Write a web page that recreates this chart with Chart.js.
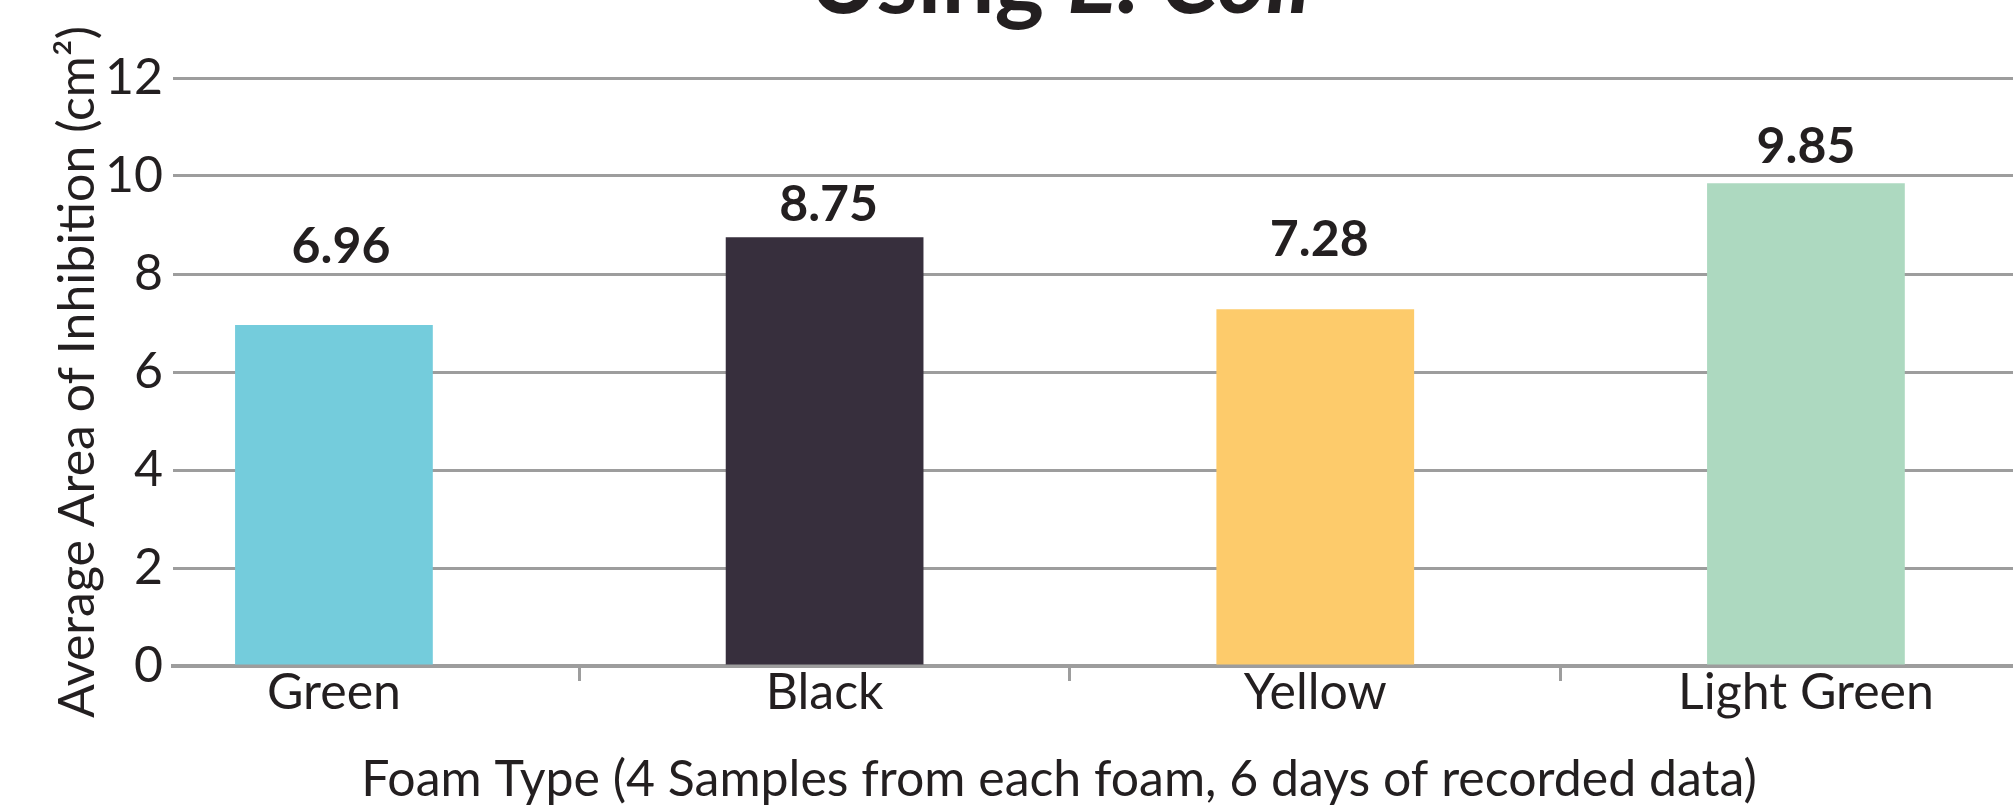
<!DOCTYPE html>
<html>
<head>
<meta charset="utf-8">
<title>Average Area of Inhibition Using E. Coli</title>
<script src="https://cdn.jsdelivr.net/npm/chart.js@4/dist/chart.umd.min.js"></script>
<style>
  html, body { margin: 0; padding: 0; background: #fff; overflow: hidden; }
  #chart { display: block; }
</style>
</head>
<body>
<canvas id="chart" width="2013" height="809"></canvas>
<script>
// Data
const foamTypes = ["Green", "Black", "Yellow", "Light Green"];
const inhibitionArea = [6.96, 8.75, 7.28, 9.85];
const yTicks = [0, 2, 4, 6, 8, 10, 12];
const barColors = ["#74ccdc", "#372f3d", "#fdcb6b", "#add9c0"];

const titleParts = ["Using ", "E. Coli"];
const yTitle = "Average Area of Inhibition (cm\u00b2)";
const xTitle = "Foam Type (4 Samples from each foam, 6 days of recorded data)";

const textColor = "#231f20";
const gridColor = "#9d9d9d";
const fontFamily = "Lato, 'Open Sans', sans-serif";

// value labels over the bars
const barValues = {
  id: "barValues",
  afterDatasetsDraw(chart, args, opts) {
    const ctx = chart.ctx;
    const bars = chart.getDatasetMeta(0).data;
    ctx.save();
    ctx.font = "bold 50px " + fontFamily;
    ctx.fillStyle = textColor;
    ctx.textAlign = "center";
    ctx.textBaseline = "alphabetic";
    bars.forEach((bar, i) => {
      ctx.fillText(inhibitionArea[i].toFixed(2), bar.x + opts.shift[i], bar.y - opts.lift[i]);
    });
    ctx.restore();
  }
};

// chart title (cut off at the top) and x axis title
const extraText = {
  id: "extraText",
  afterDraw(chart, args, opts) {
    const ctx = chart.ctx;
    ctx.save();
    ctx.fillStyle = textColor;
    ctx.textAlign = "left";
    ctx.textBaseline = "alphabetic";
    const plain = "bold " + opts.titleSize + "px " + fontFamily;
    const italic = "italic bold " + opts.titleSize + "px " + fontFamily;
    ctx.font = plain;
    const w1 = ctx.measureText(titleParts[0]).width;
    ctx.font = italic;
    const w2 = ctx.measureText(titleParts[1]).width;
    const x0 = opts.titleX - (w1 + w2) / 2;
    ctx.font = plain;
    ctx.fillText(titleParts[0], x0, opts.titleY);
    ctx.font = italic;
    ctx.fillText(titleParts[1], x0 + w1, opts.titleY);

    ctx.font = "50px " + fontFamily;
    ctx.textAlign = "center";
    ctx.fillText(xTitle, opts.xTitleX, opts.xTitleY);
    ctx.restore();
  }
};

const ctx = document.getElementById("chart").getContext("2d");

const chart = new Chart(ctx, {
  type: "bar",
  data: {
    datasets: [{
      data: inhibitionArea.map((v, i) => ({ x: i, y: v })),
      backgroundColor: barColors,
      borderWidth: 0,
      barPercentage: 0.403,
      categoryPercentage: 1
    }]
  },
  options: {
    responsive: false,
    animation: false,
    layout: { padding: { top: 78, left: 0, right: 0, bottom: 0 } },
    plugins: {
      legend: { display: false },
      tooltip: { enabled: false },
      barValues: { lift: [62, 16, 53, 20], shift: [7, 4, 4, 0] },
      extraText: { titleSize: 94, titleX: 1060, titleY: 13, xTitleX: 1059, xTitleY: 796 }
    },
    scales: {
      x: {
        type: "linear",
        offset: false,
        min: -0.328,
        max: 3.422,
        afterBuildTicks: axis => {
          axis.ticks = foamTypes.map((c, i) => ({ value: i }));
        },
        afterFit: axis => { axis.height = 143; },
        grid: {
          offset: true,
          drawOnChartArea: false,
          drawTicks: true,
          tickLength: 15,
          color: gridColor,
          lineWidth: 3
        },
        border: { display: true, color: gridColor, width: 4 },
        ticks: {
          autoSkip: false,
          maxRotation: 0,
          padding: -18,
          color: textColor,
          font: { family: fontFamily, size: 50 },
          callback: value => foamTypes[value]
        }
      },
      y: {
        min: 0,
        max: 12,
        afterBuildTicks: axis => {
          axis.ticks = yTicks.map(v => ({ value: v }));
        },
        afterFit: axis => { axis.width = 173; },
        grid: { drawTicks: false, color: gridColor, lineWidth: 3 },
        border: { display: false },
        ticks: {
          padding: 10,
          color: textColor,
          font: { family: fontFamily, size: 50 }
        },
        title: {
          display: true,
          text: yTitle,
          color: textColor,
          font: { family: fontFamily, size: 50 },
          padding: { top: 48, bottom: 0 }
        }
      }
    }
  },
  plugins: [barValues, extraText]
});
</script>
</body>
</html>
